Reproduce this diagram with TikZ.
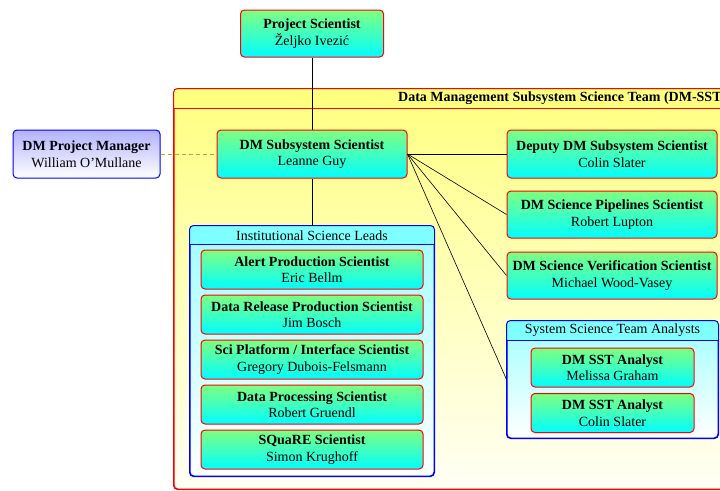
\documentclass[tikz,border=0pt]{standalone}
\usepackage{fontspec}
\setmainfont{Liberation Serif}
\definecolor{bandcyan}{RGB}{128,255,255}
\definecolor{bodycyan}{RGB}{160,255,255}
\definecolor{bandyellow}{RGB}{255,255,128}
\definecolor{bodyyellow}{RGB}{255,255,128}
\definecolor{lowyellow}{RGB}{255,255,245}
\definecolor{topgreen}{RGB}{128,255,128}
\definecolor{botcyan}{RGB}{0,255,255}
\definecolor{pmblue}{RGB}{178,178,255}
\begin{document}
\begin{tikzpicture}[x=1pt,y=-1pt,
  txt/.style={font=\fontsize{14}{16.5}\selectfont, align=center, inner sep=0pt},
  rolebox/.style={txt, draw=red, line width=1pt, rounded corners=4pt,
    top color=topgreen, bottom color=botcyan},
  pmbox/.style={txt, draw=blue, line width=1pt, rounded corners=4pt,
    top color=pmblue, bottom color=white},
  groupbox/.style={draw=blue, line width=1pt, rounded corners=4pt, inner sep=0pt,
    top color=bodycyan, bottom color=white},
  link/.style={draw=black, line width=0.6pt},
  dashlink/.style={draw={rgb,255:red,175;green,170;blue,60}, line width=0.8pt, dash pattern=on 4pt off 3pt}
]
\useasboundingbox (0,0) rectangle (720,490);
\clip (0,0) rectangle (720,490);

% outer DM-SST box
\node[draw=red, line width=1pt, rounded corners=4pt, inner sep=0pt,
  top color=bodyyellow, bottom color=lowyellow, minimum width=786pt, minimum height=400pt]
  (sst) at (567,289) {};
\begin{scope}
  \clip[rounded corners=4pt] (sst.north west) rectangle (sst.south east);
  \fill[bandyellow] (174,89) rectangle (960,108);
\end{scope}
\draw[red, line width=1pt, rounded corners=4pt] (sst.north west) rectangle (sst.south east);
\draw[red, line width=1pt] (174,108) -- (960,108);
\node[txt, anchor=west, font=\fontsize{14}{16.5}\selectfont\bfseries] (ssttitle) at (398,98.5)
  {Data Management Subsystem Science Team (DM-SST)};

% Institutional Science Leads group
\node[groupbox, minimum width=244pt, minimum height=250pt] (isl) at (312,351) {};
\begin{scope}
  \clip[rounded corners=4pt] (isl.north west) rectangle (isl.south east);
  \fill[bandcyan] (190,226) rectangle (434,244);
\end{scope}
\draw[blue, line width=1pt, rounded corners=4pt] (isl.north west) rectangle (isl.south east);
\draw[blue, line width=1pt] (190,244) -- (434,244);
\node[txt] (isltitle) at (312,235.5) {Institutional Science Leads};

% System Science Team Analysts group
\node[groupbox, minimum width=211pt, minimum height=117pt] (sta) at (612.5,379.5) {};
\begin{scope}
  \clip[rounded corners=4pt] (sta.north west) rectangle (sta.south east);
  \fill[bandcyan] (507,321) rectangle (718,340);
\end{scope}
\draw[blue, line width=1pt, rounded corners=4pt] (sta.north west) rectangle (sta.south east);
\draw[blue, line width=1pt] (507,340) -- (718,340);
\node[txt] (statitle) at (612.5,330.5) {System Science Team Analysts};

% main nodes
\node[rolebox, minimum width=143pt, minimum height=47pt] (ps) at (312,33.5)
  {\textbf{Project Scientist}\\Željko Ivezić};
\node[rolebox, minimum width=190pt, minimum height=48pt] (dmss) at (312,154)
  {\textbf{DM Subsystem Scientist}\\Leanne Guy};
\node[pmbox, minimum width=147pt, minimum height=48pt] (pm) at (86.5,154)
  {\textbf{DM Project Manager}\\William O’Mullane};
\node[rolebox, minimum width=210pt, minimum height=48pt] (dep) at (612,154)
  {\textbf{Deputy DM Subsystem Scientist}\\Colin Slater};
\node[rolebox, minimum width=210pt, minimum height=47pt] (pipe) at (612,214.5)
  {\textbf{DM Science Pipelines Scientist}\\Robert Lupton};
\node[rolebox, minimum width=210pt, minimum height=47pt] (ver) at (612,275.5)
  {\textbf{DM Science Verification Scientist}\\Michael Wood-Vasey};

% institutional leads
\node[rolebox, minimum width=222pt, minimum height=39pt] (ap) at (312,269.5)
  {\textbf{Alert Production Scientist}\\Eric Bellm};
\node[rolebox, minimum width=222pt, minimum height=39pt] (drp) at (312,314.5)
  {\textbf{Data Release Production Scientist}\\Jim Bosch};
\node[rolebox, minimum width=222pt, minimum height=39pt] (sp) at (312,359.5)
  {\textbf{Sci Platform / Interface Scientist}\\Gregory Dubois-Felsmann};
\node[rolebox, minimum width=222pt, minimum height=39pt] (dp) at (312,404.5)
  {\textbf{Data Processing Scientist}\\Robert Gruendl};
\node[rolebox, minimum width=222pt, minimum height=39pt] (sq) at (312,449.5)
  {\textbf{SQuaRE Scientist}\\Simon Krughoff};

% analysts
\node[rolebox, minimum width=163pt, minimum height=39pt] (an1) at (612.5,367.5)
  {\textbf{DM SST Analyst}\\Melissa Graham};
\node[rolebox, minimum width=163pt, minimum height=39pt] (an2) at (612.5,413)
  {\textbf{DM SST Analyst}\\Colin Slater};

% connectors
\draw[link] (ps.south) -- (dmss.north);
\draw[link] (dmss.south) -- (isl.north);
\draw[dashlink] (pm.east) -- (dmss.west);
\draw[link] (dmss.east) -- (dep.west);
\draw[link] (dmss.east) -- (pipe.west);
\draw[link] (dmss.east) -- (ver.west);
\draw[link] (dmss.east) -- (sta.west);
\end{tikzpicture}
\end{document}
